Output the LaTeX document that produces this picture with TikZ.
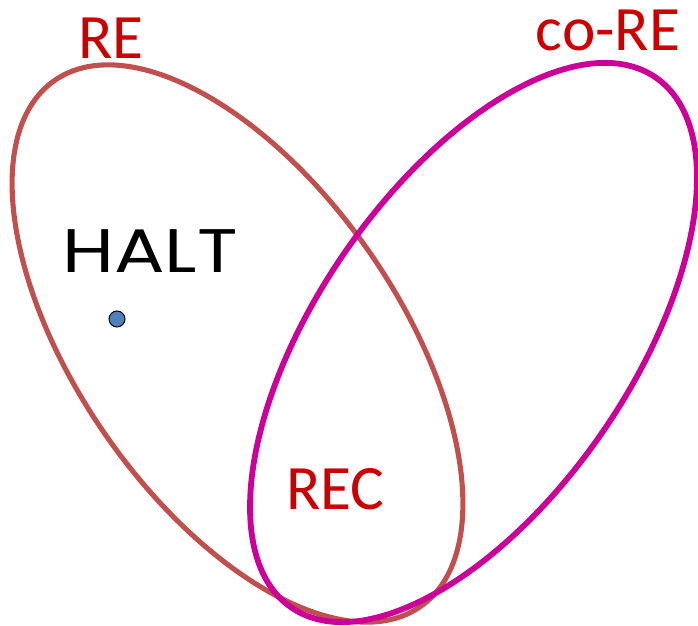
\documentclass[tikz,border=0pt]{standalone}
\usepackage{fontspec}
\setmainfont{Carlito}
\newfontfamily\haltfont[FakeStretch=1.22]{Poppins}
\definecolor{reline}{HTML}{C0504D}
\definecolor{coreline}{HTML}{CC0099}
\definecolor{setlabel}{HTML}{CC0000}
\definecolor{dotfill}{HTML}{4F81BD}

\begin{document}
\begin{tikzpicture}[x=0.02cm, y=0.02cm, line width=0.5pt]
  \useasboundingbox (0,0) rectangle (698,626);
  \draw[reline, line width=2.9pt, shift={(237.5,282.5)}, rotate=-55.2] (0,0) ellipse [x radius=320.4, y radius=160.5];
  \draw[coreline, line width=3.3pt, shift={(473.5,283.5)}, rotate=55.5] (0,0) ellipse [x radius=321.6, y radius=157.1];
  \node[inner sep=0pt, text=setlabel, font=\fontsize{36}{40}\selectfont] (re) at (111,588) {RE};
  \node[inner sep=0pt, text=setlabel, font=\fontsize{36}{40}\selectfont] (core) at (608,596) {co-RE};
  \node[inner sep=0pt, text=setlabel, font=\fontsize{36}{40}\selectfont] (rec) at (335.5,137) {REC};
  \node[inner sep=0pt, font=\haltfont\fontsize{35}{40}\selectfont] (halt) at (150,374.5) {HALT};
  \node[circle, inner sep=0pt, minimum size=0.32cm, fill=dotfill, draw=black, line width=0.6pt] (haltdot) at (117,307) {};
\end{tikzpicture}
\end{document}
